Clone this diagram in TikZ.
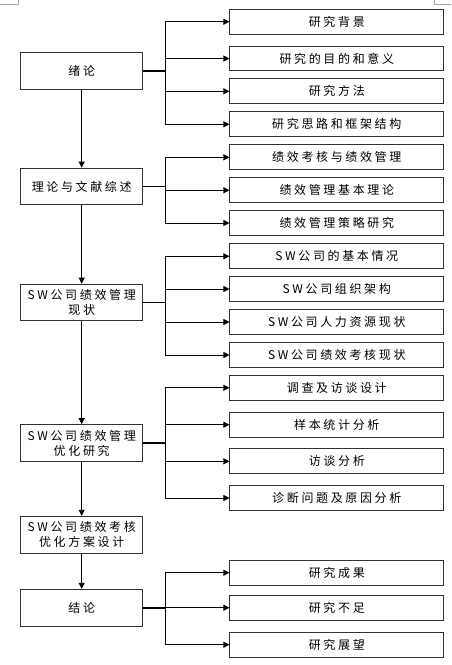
\documentclass[tikz,border=0pt]{standalone}
\usepackage{fontspec}
\newfontfamily\cjk{Noto Sans CJK SC}[LetterSpace=22]
\usetikzlibrary{arrows.meta}
\definecolor{boxline}{HTML}{333333}
\definecolor{markgray}{HTML}{A8A8A8}
\tikzset{
  leftbox/.style={draw=boxline,line width=1pt,minimum width=122pt,minimum height=36.7pt,inner sep=0pt,align=center,font=\cjk\fontsize{12}{15}\selectfont},
  rightbox/.style={draw=boxline,line width=1pt,minimum width=213.7pt,minimum height=24.7pt,inner sep=0pt,font=\cjk\fontsize{12}{15}\selectfont},
  stub/.style={draw=black,line width=1.6pt},
  branch/.style={draw=black,line width=0.8pt,-{Triangle[length=6pt,width=6pt]}},
  flow/.style={draw=black,line width=0.8pt,-{Triangle[length=6pt,width=6pt]}},
  cornermark/.style={draw=markgray,line width=0.8pt}
}
\begin{document}
\begin{tikzpicture}[x=1pt,y=-1pt]
\useasboundingbox (0,0) rectangle (451,665);
% page corner marks
\coordinate (tl1) at (0,4.5);
\coordinate (tl2) at (18.5,4.5);
\coordinate (tl3) at (18.5,0);
\coordinate (tr1) at (434,0);
\coordinate (tr2) at (434,4.5);
\coordinate (tr3) at (451,4.5);
\draw[cornermark] (tl1) -- (tl2) -- (tl3);
\draw[cornermark] (tr1) -- (tr2) -- (tr3);
% left column
\node[leftbox] (A) at (81.7,70.7) {绪论};
\node[leftbox] (B) at (81.7,186.5) {理论与文献综述};
\node[leftbox] (C) at (81.7,302.5) {SW公司绩效管理\\现状};
\node[leftbox] (D) at (81.7,443) {SW公司绩效管理\\优化研究};
\node[leftbox] (E) at (81.7,534.7) {SW公司绩效考核\\优化方案设计};
\node[leftbox] (F) at (81.7,607.7) {结论};
% right column
\node[rightbox] (r1) at (336.8,21.7) {研究背景};
\node[rightbox] (r2) at (336.8,58.5) {研究的目的和意义};
\node[rightbox] (r3) at (336.8,91.3) {研究方法};
\node[rightbox] (r4) at (336.8,124.3) {研究思路和框架结构};
\node[rightbox] (r5) at (336.8,157.3) {绩效考核与绩效管理};
\node[rightbox] (r6) at (336.8,190.3) {绩效管理基本理论};
\node[rightbox] (r7) at (336.8,223) {绩效管理策略研究};
\node[rightbox] (r8) at (336.8,256.3) {SW公司的基本情况};
\node[rightbox] (r9) at (336.8,289) {SW公司组织架构};
\node[rightbox] (r10) at (336.8,322) {SW公司人力资源现状};
\node[rightbox] (r11) at (336.8,355) {SW公司绩效考核现状};
\node[rightbox] (r12) at (336.8,387.8) {调查及访谈设计};
\node[rightbox] (r13) at (336.8,424.7) {样本统计分析};
\node[rightbox] (r14) at (336.8,461.3) {访谈分析};
\node[rightbox] (r15) at (336.8,498) {诊断问题及原因分析};
\node[rightbox] (r16) at (336.8,572.7) {研究成果};
\node[rightbox] (r17) at (336.8,607.7) {研究不足};
\node[rightbox] (r18) at (336.8,644.7) {研究展望};
% junctions
\coordinate (jA) at (165.7,70.7);
\coordinate (jB) at (165.7,186.5);
\coordinate (jC) at (165.7,302.5);
\coordinate (jD) at (165.7,443);
\coordinate (jF) at (165.7,607.7);
% vertical flow
\draw[flow] (A) -- (B);
\draw[flow] (B) -- (C);
\draw[flow] (C) -- (D);
\draw[flow] (D) -- (E);
\draw[flow] (E) -- (F);
% stubs
\draw[stub] (A.east) -- (jA);
\draw[stub] (B.east) -- (jB);
\draw[stub] (C.east) -- (jC);
\draw[stub] (D.east) -- (jD);
\draw[stub] (F.east) -- (jF);
% branches
\foreach \r in {r1,r2,r3,r4} \draw[branch] (jA) |- (\r.west);
\foreach \r in {r5,r6,r7} \draw[branch] (jB) |- (\r.west);
\foreach \r in {r8,r9,r10,r11} \draw[branch] (jC) |- (\r.west);
\foreach \r in {r12,r13,r14,r15} \draw[branch] (jD) |- (\r.west);
\foreach \r in {r16,r17,r18} \draw[branch] (jF) |- (\r.west);
\end{tikzpicture}
\end{document}
